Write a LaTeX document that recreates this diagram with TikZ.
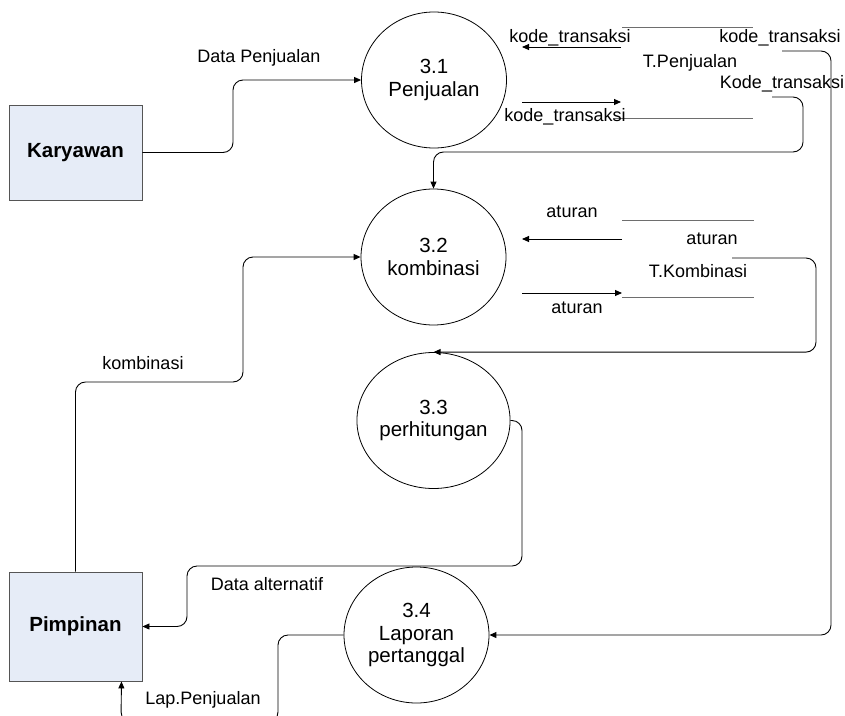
\documentclass[tikz,border=0pt]{standalone}
\usepackage{fontspec}
\setmainfont{Liberation Sans}
\usetikzlibrary{shapes.geometric,arrows.meta,calc}
\definecolor{entfill}{RGB}{230,236,247}
\definecolor{entline}{RGB}{85,85,85}
\definecolor{storeline}{RGB}{110,110,110}
\begin{document}
\begin{tikzpicture}[x=1pt,y=-1pt,
  ent/.style={draw=entline, fill=entfill, line width=0.9pt, minimum width=133pt, minimum height=95pt, inner sep=0pt, font=\fontsize{20.5}{24}\selectfont\bfseries},
  proc/.style={ellipse, draw, line width=0.8pt, minimum width=145pt, minimum height=136pt, inner sep=0pt, align=center, font=\fontsize{20.5}{22.5}\selectfont},
  lbl/.style={font=\fontsize{18}{20}\selectfont, inner sep=0pt},
  flow/.style={draw, line width=0.9pt, rounded corners=10pt, -{Triangle[length=7pt,width=6pt]}},
  store/.style={draw=storeline, line width=1pt}]
\clip (0,0) rectangle (845,715);
\fill[white] (0,0) rectangle (845,715);

% entities
\node[ent] (kar) at (75.5,152.5) {Karyawan};
\node[ent, minimum height=109pt] (pim) at (75.5,626.5) {Pimpinan};

% processes
\node[proc] (p31) at (434,80) {3.1\\Penjualan};
\node[proc] (p32) at (433.5,257) {3.2\\kombinasi};
\node[proc] (p33) at (433.5,420.5) {3.3\\perhitungan};
\node[proc] (p34) at (416.5,635) {3.4\\Laporan\\pertanggal};

% data stores
\draw[store] (622,27) -- (753,27);
\draw[store] (613,118) -- (753,118);
\draw[store] (622,220) -- (754,220);
\draw[store] (622,297) -- (754,297);

% free ends
\coordinate (s1a) at (621,47);
\coordinate (s1b) at (522,47);
\coordinate (s2a) at (522,102);
\coordinate (s2b) at (621,102);
\coordinate (s3a) at (622,239);
\coordinate (s3b) at (522,239);
\coordinate (s4a) at (522,293);
\coordinate (s4b) at (622,293);
\coordinate (kt) at (772,97);
\coordinate (lt) at (782,51);
\coordinate (tk) at (732,258);

% connectors
\draw[flow] (kar.east) -- (233,152.5) |- (p31.west);
\draw[flow] (pim.north) -- (75.5,382) -- (243,382) |- (p32.west);
\draw[flow] (p33.east) -- (522,420.5) -- (522,566) -- (187,566) |- (pim.east);
\draw[flow] (p34.west) -- (278,635) -- (278,722) -- (121,722) -- ([xshift=-21pt]pim.south east);
\draw[flow] (kt) -- (803,97) -- (803,152) -| (p32.north);
\draw[flow] (lt) -- (831,51) |- (p34.east);
\draw[flow] (tk) -- (816,258) |- (p33.north);
\draw[flow] (s1a) -- (s1b);
\draw[flow] (s2a) -- (s2b);
\draw[flow] (s3a) -- (s3b);
\draw[flow] (s4a) -- (s4b);

% labels
\node[lbl] (l1) at (259,58) {Data Penjualan};
\node[lbl] (l2) at (570,38) {kode\_transaksi};
\node[lbl] (l3) at (780,38) {kode\_transaksi};
\node[lbl] (l4) at (690,63) {T.Penjualan};
\node[lbl] (l5) at (782,84) {Kode\_transaksi};
\node[lbl] (l6) at (565,117) {kode\_transaksi};
\node[lbl] (l7) at (572,212) {aturan};
\node[lbl] (l8) at (712,239) {aturan};
\node[lbl] (l9) at (698,271) {T.Kombinasi};
\node[lbl] (l10) at (577,308) {aturan};
\node[lbl] (l11) at (143,363) {kombinasi};
\node[lbl] (l12) at (267,584) {Data alternatif};
\node[lbl] (l13) at (203,700) {Lap.Penjualan};
\end{tikzpicture}
\end{document}
